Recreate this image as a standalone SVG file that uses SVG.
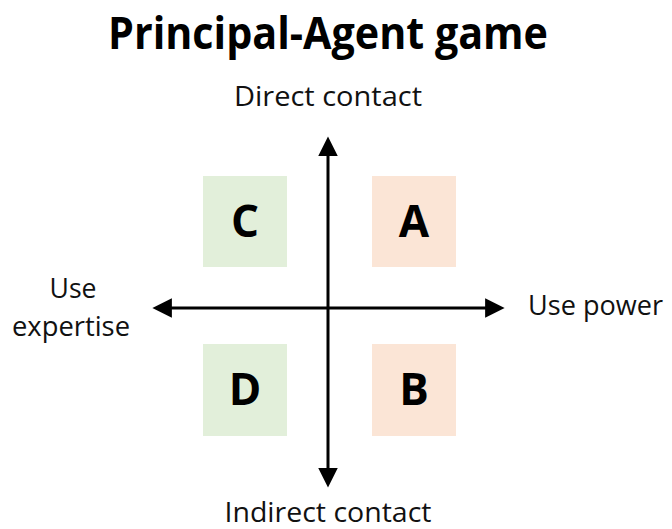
<svg xmlns="http://www.w3.org/2000/svg" width="672" height="529" viewBox="0 0 672 529">
  <style>
    .lbl { font-family: "Open Sans", "Noto Sans", sans-serif; font-size: 28px; fill: #111; }
    .title { font-family: "Open Sans", "Noto Sans", sans-serif; font-size: 45px; font-weight: bold; fill: #000; }
    .letter { font-family: "Open Sans", "Noto Sans", sans-serif; font-size: 44px; font-weight: bold; fill: #000; text-anchor: middle; }
    .axis { stroke: #000; stroke-width: 3; fill: none; }
    .green { fill: #E2EFDA; }
    .pink { fill: #FBE5D6; }
  </style>
  <defs>
    <marker id="head" viewBox="0 0 10 10" refX="2" refY="5" markerWidth="6.5" markerHeight="6.5" markerUnits="strokeWidth" orient="auto-start-reverse">
      <path d="M0,0 L10,5 L0,10 Z" fill="#000"/>
    </marker>
  </defs>

  <rect width="672" height="529" fill="#fff"/>

  <text class="title" x="328" y="49" text-anchor="middle" textLength="440" lengthAdjust="spacingAndGlyphs">Principal-Agent game</text>

  <g id="connectors">
    <line class="axis" x1="328" y1="152" x2="328" y2="472" marker-start="url(#head)" marker-end="url(#head)"/>
    <line class="axis" x1="168" y1="308" x2="489" y2="308" marker-start="url(#head)" marker-end="url(#head)"/>
  </g>

  <g id="label-direct"><text class="lbl" x="328" y="106" text-anchor="middle" textLength="188" lengthAdjust="spacingAndGlyphs">Direct contact</text></g>
  <g id="label-indirect"><text class="lbl" x="328" y="522" text-anchor="middle" textLength="207" lengthAdjust="spacingAndGlyphs">Indirect contact</text></g>
  <g id="label-power"><text class="lbl" x="528" y="315" textLength="135" lengthAdjust="spacingAndGlyphs">Use power</text></g>
  <g id="label-expertise">
    <text class="lbl" x="73" y="298" text-anchor="middle" textLength="47" lengthAdjust="spacingAndGlyphs">Use</text>
    <text class="lbl" x="71" y="336" text-anchor="middle" textLength="118" lengthAdjust="spacingAndGlyphs">expertise</text>
  </g>

  <g id="node-C"><rect class="green" x="203" y="176" width="84" height="91"/><text class="letter" x="245" y="237">C</text></g>
  <g id="node-A"><rect class="pink" x="372" y="176" width="84" height="91"/><text class="letter" x="414" y="237">A</text></g>
  <g id="node-D"><rect class="green" x="203" y="344" width="84" height="92"/><text class="letter" x="245" y="405">D</text></g>
  <g id="node-B"><rect class="pink" x="372" y="344" width="84" height="92"/><text class="letter" x="414" y="405">B</text></g>
</svg>
